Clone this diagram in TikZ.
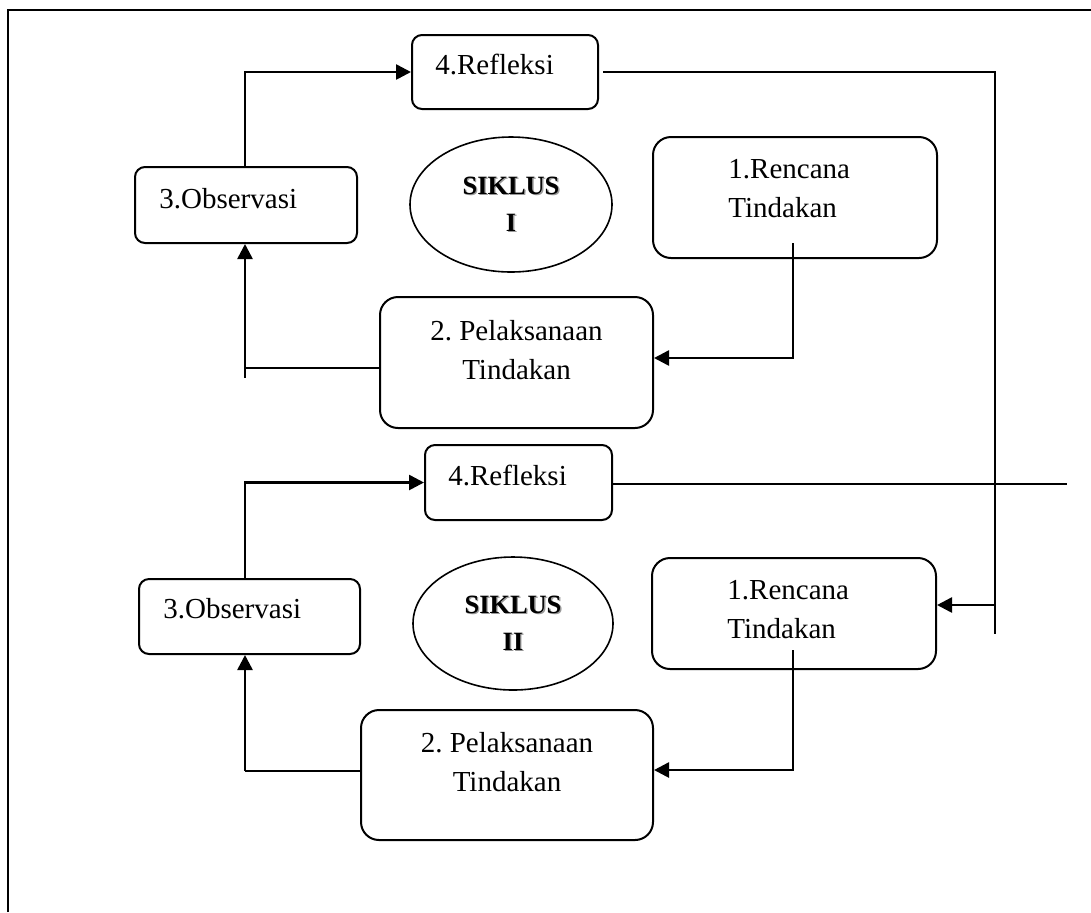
\documentclass[tikz,border=0pt]{standalone}
\usepackage{fontspec}
\setmainfont{Liberation Serif}
\usetikzlibrary{shapes.geometric, arrows.meta, positioning, calc}
\frenchspacing
\newcommand{\shadowed}[1]{\makebox[0pt][l]{\kern0.7pt\raisebox{-0.7pt}{\textcolor{black!40}{#1}}}#1}

\begin{document}
\begin{tikzpicture}[
  x=0.5pt, y=-0.5pt,
  box/.style={
    rectangle, rounded corners=5pt,
    draw, line width=1pt, inner sep=0pt
  },
  bigbox/.style={box, rounded corners=9pt},
  siklus/.style={
    ellipse, draw, line width=0.8pt, inner sep=0pt,
    font=\fontsize{13.2}{18.5}\selectfont\bfseries, align=center
  },
  txt/.style={inner sep=0pt, font=\fontsize{14.5}{19.5}\selectfont},
  link/.style={line width=0.9pt},
  arr/.style={-{Triangle[length=7.5pt, width=7.5pt]}, line width=1.3pt}
]
  \useasboundingbox (0,0) rectangle (1091,912);

  % frame
  \draw[line width=1pt] (8,912) -- (8,10) -- (1091,10);

  % siklus I
  \node[box, minimum width=93pt, minimum height=37pt] (refA) at (505,72) {};
  \node[box, minimum width=111pt, minimum height=38pt] (obsA) at (246,205) {};
  \node[bigbox, minimum width=142pt, minimum height=60.5pt] (renA) at (795,197.5) {};
  \node[bigbox, minimum width=136.5pt, minimum height=65.5pt] (pelA) at (516.5,362.5) {};
  \node[siklus, minimum width=101pt, minimum height=67.5pt] (sikA) at (511,204.5)
    {\shadowed{SIKLUS}\\\shadowed{I}};

  \node[txt, anchor=base west] (tRefA) at (435,74) {4.Refleksi};
  \node[txt, anchor=base west] (tObsA) at (159,208) {3.Observasi};
  \node[txt, anchor=west, align=left] (tRenA) at (728,189) {1.Rencana\\Tindakan};
  \node[txt, align=center] (tPelA) at (516.5,350) {2. Pelaksanaan\\Tindakan};

  % siklus II
  \node[box, minimum width=93.5pt, minimum height=37.5pt] (refB) at (518.5,482.5) {};
  \node[box, minimum width=110.5pt, minimum height=37.5pt] (obsB) at (249.5,616.5) {};
  \node[bigbox, minimum width=142pt, minimum height=55.5pt] (renB) at (794,613.5) {};
  \node[bigbox, minimum width=146pt, minimum height=65pt] (pelB) at (507,775) {};
  \node[siklus, minimum width=100pt, minimum height=66.5pt] (sikB) at (513,623.5)
    {\shadowed{SIKLUS}\\\shadowed{II}};

  \node[txt, anchor=base west] (tRefB) at (448,485) {4.Refleksi};
  \node[txt, anchor=base west] (tObsB) at (163,618) {3.Observasi};
  \node[txt, anchor=west, align=left] (tRenB) at (727,610) {1.Rencana\\Tindakan};
  \node[txt, align=center] (tPelB) at (507,762.5) {2. Pelaksanaan\\Tindakan};

  % connectors
  \coordinate (fromRenA) at (793,243);
  \coordinate (hitA) at (793,358);
  \coordinate (joinA) at (245,368);
  \coordinate (cornA) at (245,378);
  \coordinate (endA) at (995,634);
  \coordinate (inB) at (995,605);
  \coordinate (fromRenB) at (793,650);
  \coordinate (hitB) at (793,770);
  \coordinate (cornB) at (245,771);
  \coordinate (outB) at (1067,484);

  \draw[arr] (obsA.north -| cornA) |- (refA.west);
  \draw[link] ($(refA.east)+(4,0)$) -| (endA);
  \draw[arr] (fromRenA) -- (hitA) -- (hitA -| pelA.east);
  \draw[link] (pelA.west |- joinA) -- (joinA) -- (cornA);
  \draw[arr] (joinA) -- (joinA |- obsA.south);

  \draw[arr] (inB) -- (inB -| renB.east);
  \draw[arr] (obsB.north -| cornB) |- (refB.west);
  \draw[link] (refB.east |- outB) -- (outB);
  \draw[arr] (fromRenB) -- (hitB) -- (hitB -| pelB.east);
  \draw[link] (pelB.west |- cornB) -- (cornB);
  \draw[arr] (cornB) -- (cornB |- obsB.south);
\end{tikzpicture}
\end{document}
